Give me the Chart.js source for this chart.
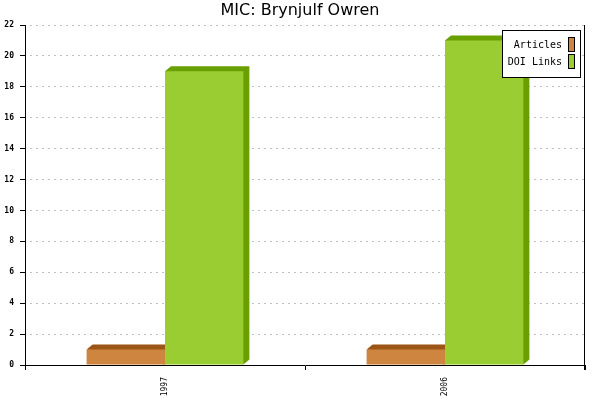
<!DOCTYPE html>
<html>
<head>
<meta charset="utf-8">
<script src="https://cdn.jsdelivr.net/npm/chart.js@4/dist/chart.umd.min.js"></script>
<style>
  html, body { margin: 0; padding: 0; background: #fff; }
  #wrap { width: 600px; height: 400px; }
</style>
</head>
<body>
<div id="wrap"><canvas id="micChart"></canvas></div>
<script>
// Chart data
const chartTitle = 'MIC: Brynjulf Owren';
const years = ['1997', '2006'];
const articles = [1, 1];
const doiLinks = [19, 21];
const yTicks = [0, 2, 4, 6, 8, 10, 12, 14, 16, 18, 20, 22];

// front colour, dark (top/side) colour
const seriesColors = {
    'Articles': ['#cd853f', '#9c5514'],
    'DOI Links': ['#9acd32', '#6a9f00']
};

const DEPTH_X = 6;
const DEPTH_Y = 5;

// draws the fake 3d top and side faces behind the bars
const depthPlugin = {
    id: 'depth',
    beforeDatasetsDraw(chart) {
        const ctx = chart.ctx;
        ctx.save();
        chart.data.datasets.forEach((ds, i) => {
            const dark = seriesColors[ds.label][1];
            chart.getDatasetMeta(i).data.forEach(bar => {
                const left = bar.x - bar.width / 2;
                const right = bar.x + bar.width / 2;
                const top = bar.y;
                const bottom = bar.base;
                ctx.fillStyle = dark;
                ctx.beginPath();
                ctx.moveTo(left, top);
                ctx.lineTo(left + DEPTH_X, top - DEPTH_Y);
                ctx.lineTo(right + DEPTH_X, top - DEPTH_Y);
                ctx.lineTo(right + DEPTH_X, bottom - DEPTH_Y);
                ctx.lineTo(right, bottom);
                ctx.closePath();
                ctx.fill();
            });
        });
        ctx.restore();
    }
};

// title, right border line and the boxed legend
const framePlugin = {
    id: 'frame',
    afterDraw(chart) {
        const ctx = chart.ctx;
        const area = chart.chartArea;
        ctx.save();

        ctx.fillStyle = '#000';
        ctx.font = '16px "DejaVu Sans", sans-serif';
        ctx.textAlign = 'center';
        ctx.textBaseline = 'middle';
        ctx.fillText(chartTitle, 300, 11);

        ctx.strokeStyle = '#000';
        ctx.lineWidth = 1;
        ctx.beginPath();
        ctx.moveTo(Math.round(area.right) - 0.5, area.top);
        ctx.lineTo(Math.round(area.right) - 0.5, area.bottom + 5);
        ctx.stroke();

        // legend box
        const bx = 502.5, by = 30.5, bw = 78, bh = 47;
        ctx.fillStyle = '#fff';
        ctx.fillRect(bx, by, bw, bh);
        ctx.strokeRect(bx, by, bw, bh);
        ctx.font = '10px "DejaVu Sans Mono", monospace';
        ctx.textAlign = 'right';
        ctx.textBaseline = 'middle';
        chart.data.datasets.forEach((ds, i) => {
            const sy = 37 + i * 17;
            ctx.fillStyle = '#000';
            ctx.fillText(ds.label, 562, sy + 8);
            ctx.fillStyle = seriesColors[ds.label][0];
            ctx.fillRect(568, sy, 7, 15);
            ctx.strokeRect(568.5, sy + 0.5, 6, 14);
        });
        ctx.restore();
    }
};

new Chart(document.getElementById('micChart'), {
    type: 'bar',
    data: {
        labels: years,
        datasets: [
            {
                label: 'Articles',
                data: articles,
                backgroundColor: seriesColors['Articles'][0],
                borderWidth: 0
            },
            {
                label: 'DOI Links',
                data: doiLinks,
                backgroundColor: seriesColors['DOI Links'][0],
                borderWidth: 0
            }
        ]
    },
    options: {
        responsive: true,
        maintainAspectRatio: false,
        animation: false,
        categoryPercentage: 0.56,
        barPercentage: 1.0,
        layout: { padding: { top: 25, right: 15, bottom: 0, left: 0 } },
        plugins: {
            legend: { display: false },
            tooltip: { enabled: false },
            title: { display: false }
        },
        scales: {
            x: {
                grid: {
                    offset: true,
                    drawOnChartArea: false,
                    color: '#000',
                    tickLength: 5
                },
                border: { color: '#000', width: 1 },
                ticks: {
                    color: '#000',
                    minRotation: 90,
                    maxRotation: 90,
                    padding: 7,
                    font: { family: '"DejaVu Sans Mono", monospace', size: 8 }
                },
                afterFit(scale) { scale.height = 35; }
            },
            y: {
                min: 0,
                max: 22,
                afterBuildTicks(scale) {
                    scale.ticks = yTicks.map(v => ({ value: v }));
                },
                grid: {
                    color: '#c0c0c0',
                    tickColor: '#000',
                    tickLength: 5,
                    tickBorderDash: [],
                    drawTicks: true
                },
                border: { color: '#000', width: 1, dash: [2, 4], dashOffset: 2 },
                ticks: {
                    color: '#000',
                    padding: 6,
                    font: { family: '"DejaVu Sans Mono", monospace', size: 8, weight: 'bold' }
                },
                afterFit(scale) { scale.width = 25; }
            }
        }
    },
    plugins: [depthPlugin, framePlugin]
});
</script>
</body>
</html>
